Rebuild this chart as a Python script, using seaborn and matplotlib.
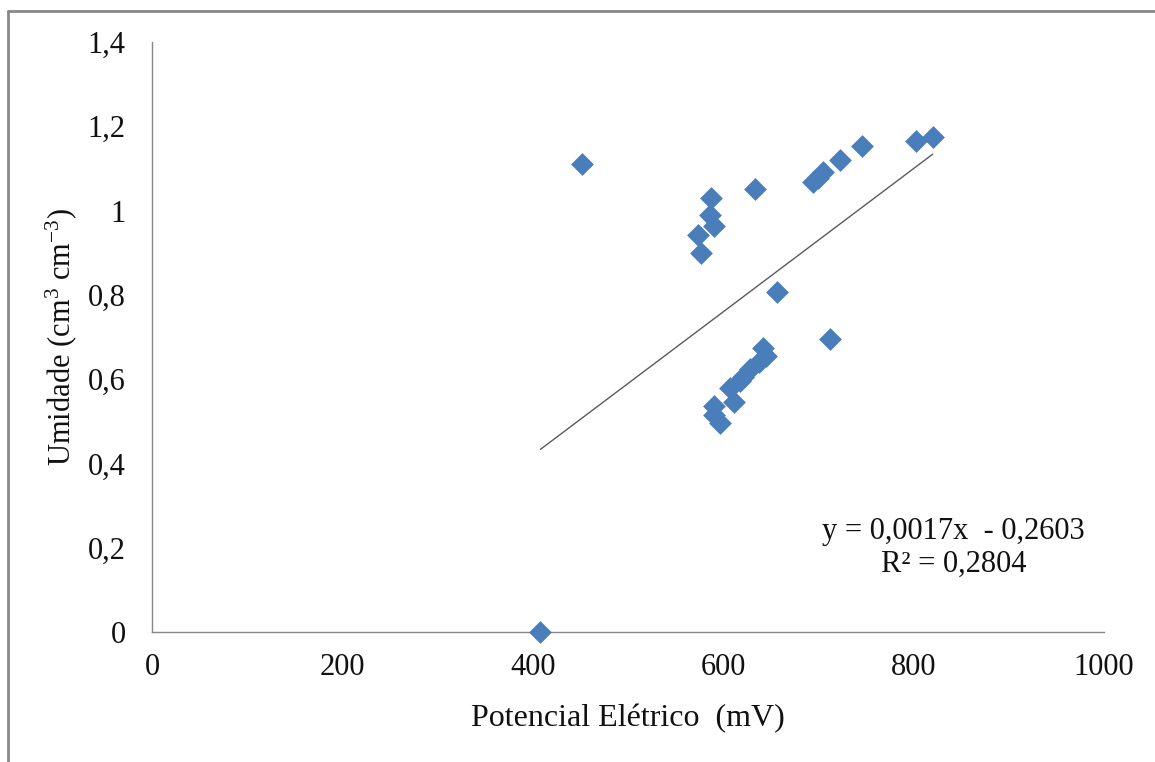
import matplotlib
matplotlib.use("Agg")
import matplotlib.pyplot as plt
import seaborn as sns
import pandas as pd
import numpy as np
from matplotlib.lines import Line2D

# ---- data ----
potencial = [408, 452, 587, 586, 590, 574, 577, 633, 694, 700, 705, 723, 746, 803, 820,
             656, 712, 642, 645, 638, 628, 621, 618, 607, 611, 590, 590, 597]
umidade = [0.0, 1.11, 1.03, 0.99, 0.963, 0.941, 0.899, 1.05, 1.068, 1.078, 1.092, 1.12, 1.153, 1.166, 1.175,
           0.806, 0.695, 0.675, 0.655, 0.64, 0.625, 0.605, 0.595, 0.578, 0.545, 0.537, 0.515, 0.495]
trend_slope = 0.0017
trend_intercept = -0.2603
r_squared = 0.2804
x_ticks = [0, 200, 400, 600, 800, 1000]
y_ticks = [0, 0.2, 0.4, 0.6, 0.8, 1.0, 1.2, 1.4]
y_tick_labels = ["0", "0,2", "0,4", "0,6", "0,8", "1", "1,2", "1,4"]
x_label = "Potencial Elétrico  (mV)"
y_label = r"Umidade (cm$^3$ cm$^{-3}$)"
eq_text = "y = 0,0017x  - 0,2603\nR² = 0,2804"

df = pd.DataFrame({"Potencial": potencial, "Umidade": umidade})

sns.set_theme(style="white")
plt.rcParams["font.family"] = ["Liberation Serif", "DejaVu Serif"]
plt.rcParams["mathtext.fontset"] = "custom"
plt.rcParams["mathtext.rm"] = "Liberation Serif"
plt.rcParams["mathtext.it"] = "Liberation Serif:italic"

fig = plt.figure(figsize=(11.55, 7.62), dpi=100)
fig.patch.set_facecolor("white")
ax = fig.add_axes([152 / 1155, 1 - 632 / 762, (1104 - 152) / 1155, (632 - 42) / 762])

# trend line
xs = np.array([min(potencial), max(potencial)])
ax.plot(xs, trend_slope * xs + trend_intercept, color="#5a5a5a", linewidth=1.0, zorder=2)

sns.scatterplot(data=df, x="Potencial", y="Umidade", marker="D", s=135,
                color="#4a7ebb", linewidth=0, ax=ax, zorder=3, clip_on=False)

ax.set_xlim(0, 1000)
ax.set_ylim(0, 1.4)
ax.set_xticks(x_ticks)
ax.set_xticklabels([str(v) for v in x_ticks])
ax.set_yticks(y_ticks)
ax.set_yticklabels(y_tick_labels)

for s in ["top", "right"]:
    ax.spines[s].set_visible(False)
for s in ["left", "bottom"]:
    ax.spines[s].set_color("#888888")
    ax.spines[s].set_linewidth(1.0)

ax.tick_params(axis="both", which="major", direction="out", length=5, width=1.0,
               color="#888888", labelsize=22, labelcolor="#111111")
ax.tick_params(axis="x", pad=10)
ax.tick_params(axis="y", pad=14)
ax.grid(False)

ax.set_xlabel(x_label, fontsize=23, color="#111111")
ax.set_ylabel(y_label, fontsize=22, color="#111111")
ax.xaxis.set_label_coords(0.5, -0.122)
ax.yaxis.set_label_coords(-0.077, 0.5)

ax.text(842, 0.20, eq_text, fontsize=22, color="#111111", ha="center", va="center",
        multialignment="center", linespacing=1.2)

# partial chart-area border (left and top)
fig.add_artist(Line2D([8 / 1155, 8 / 1155], [0, 1 - 11 / 762], transform=fig.transFigure,
                      color="#888888", linewidth=2))
fig.add_artist(Line2D([8 / 1155, 1], [1 - 11 / 762, 1 - 11 / 762], transform=fig.transFigure,
                      color="#888888", linewidth=2))

fig.savefig("out.png", dpi=100, facecolor="white")
